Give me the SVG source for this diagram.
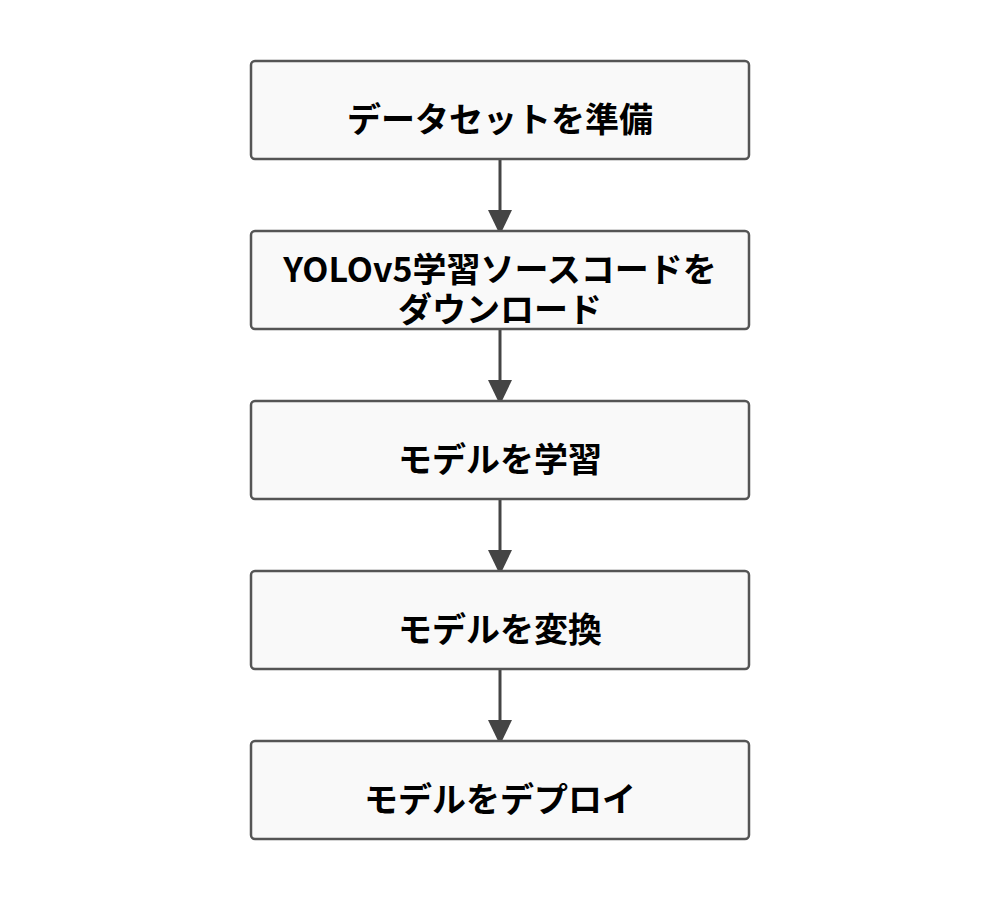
<svg xmlns="http://www.w3.org/2000/svg" width="1000" height="900" viewBox="0 0 1000 900">
<style>
.box{fill:#f9f9f9;stroke:#555;stroke-width:2.5}
.t{font-family:"Noto Sans CJK JP","Noto Sans",sans-serif;font-weight:bold;font-size:34px;fill:#000;text-anchor:middle;dominant-baseline:central}
.c{stroke:#444;stroke-width:3;fill:none}
</style>
<defs>
<marker id="ah" markerUnits="userSpaceOnUse" markerWidth="26" markerHeight="24" refX="25" refY="12" orient="auto">
<path d="M0,0 L25,12 L0,24 Z" fill="#444"/>
</marker>
</defs>
<rect width="1000" height="900" fill="#fff"/>
<g id="connectors">
<line class="c" x1="500" y1="160" x2="500" y2="235" marker-end="url(#ah)"/>
<line class="c" x1="500" y1="330" x2="500" y2="405" marker-end="url(#ah)"/>
<line class="c" x1="500" y1="500" x2="500" y2="575" marker-end="url(#ah)"/>
<line class="c" x1="500" y1="670" x2="500" y2="745" marker-end="url(#ah)"/>
</g>
<g id="n1"><rect class="box" x="251" y="61" width="498" height="98" rx="4"/><text class="t" x="500" y="117">データセットを準備</text></g>
<g id="n2"><rect class="box" x="251" y="231" width="498" height="98" rx="4"/><text class="t" x="500" y="267"><tspan x="500" y="267">YOLOv5学習ソースコードを</tspan><tspan x="500" y="307">ダウンロード</tspan></text></g>
<g id="n3"><rect class="box" x="251" y="401" width="498" height="98" rx="4"/><text class="t" x="500" y="457">モデルを学習</text></g>
<g id="n4"><rect class="box" x="251" y="571" width="498" height="98" rx="4"/><text class="t" x="500" y="627">モデルを変換</text></g>
<g id="n5"><rect class="box" x="251" y="741" width="498" height="98" rx="4"/><text class="t" x="500" y="797">モデルをデプロイ</text></g>
</svg>
